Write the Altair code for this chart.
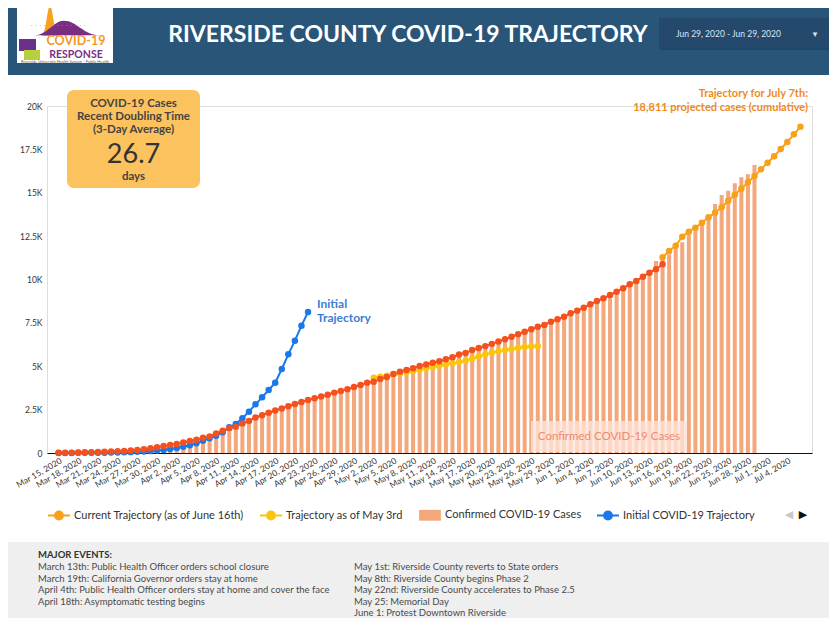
import altair as alt
import pandas as pd

# ---------------- series names / colours ----------------
S_CUR = "Current Trajectory (as of June 16th)"
S_MAY = "Trajectory as of May 3rd"
S_CONF = "Confirmed COVID-19 Cases"
S_INIT = "Initial COVID-19 Trajectory"
S_ACT = "Reported COVID-19 Cases (cumulative)"

series_order = [S_CUR, S_MAY, S_CONF, S_INIT, S_ACT]
series_colors = ["#f7a11a", "#fcc40f", "#f3a77b", "#1a78e8", "#f4511e"]
legend_entries = [S_CUR, S_MAY, S_CONF, S_INIT]

# ---------------- data ----------------
confirmed_start = "2020-03-15"
confirmed_cases = [
    7, 9, 12, 17, 24, 29, 35, 45, 57, 63,
    70, 90, 110, 130, 180, 220, 250, 290, 350, 420,
    460, 560, 650, 790, 900, 1050, 1250, 1400, 1550, 1700,
    1900, 2050, 2200, 2330, 2480, 2600, 2750, 2880, 2990, 3100,
    3200, 3300, 3420, 3520, 3620, 3750, 3870, 4000, 4080, 4200,
    4330, 4500, 4640, 4730, 4830, 4960, 5050, 5150, 5240, 5350,
    5470, 5620, 5710, 5880, 6000, 6110, 6240, 6370, 6500, 6650,
    6800, 6940, 7080, 7230, 7330, 7520, 7650, 7800, 8000, 8150,
    8320, 8510, 8700, 8860, 9050, 9240, 9430, 9660, 9850, 10100,
    10350, 11067, 11200, 11450, 11800, 12150, 12600, 12900, 13150, 13500,
    14352, 14871, 15110, 15545, 15900, 16070, 16600,
]

reported_start = "2020-03-15"
reported_cases = [
    10, 15, 20, 30, 40, 50, 60, 75, 90, 100,
    115, 150, 180, 210, 270, 330, 400, 460, 520, 600,
    690, 760, 880, 950, 1130, 1280, 1420, 1520, 1700, 1850,
    2050, 2180, 2320, 2450, 2570, 2700, 2820, 2940, 3050, 3150,
    3250, 3360, 3480, 3580, 3670, 3800, 3920, 4050, 4110, 4260,
    4380, 4560, 4690, 4780, 4880, 5010, 5100, 5200, 5290, 5400,
    5520, 5680, 5760, 5930, 6050, 6160, 6290, 6420, 6560, 6700,
    6850, 6993, 7128, 7282, 7378, 7570, 7705, 7858, 8051, 8204,
    8377, 8569, 8761, 8915, 9107, 9300, 9492, 9723, 9914, 10164,
    10395, 10587, 10876,
]

current_start = "2020-06-15"
current_traj = [
    11280, 11643, 11950, 12468, 12757, 12987, 13275, 13582, 13851, 14158,
    14542, 14888, 15234, 15599, 15966, 16350, 16734, 17100, 17522, 17926,
    18369, 18811,
]

may_start = "2020-05-02"
may_traj = [
    4340, 4390, 4450, 4520, 4590, 4660, 4730, 4800, 4880, 4950,
    5030, 5100, 5180, 5240, 5320, 5430, 5560, 5680, 5780, 5860,
    5930, 6000, 6060, 6110, 6140, 6170,
]

initial_start = "2020-03-15"
initial_traj = [
    4, 5, 6, 8, 10, 12, 15, 20, 25, 30,
    40, 50, 65, 85, 110, 140, 180, 230, 290, 360,
    450, 560, 700, 850, 1000, 1200, 1480, 1672, 2000, 2382,
    2805, 3208, 3631, 4054, 4842, 5687, 6475, 7339, 8127,
]

tick_dates = pd.date_range("2020-03-15", "2020-07-04", freq="3D")
y_ticks = [0, 2500, 5000, 7500, 10000, 12500, 15000, 17500, 20000]

events_left = [
    "March 13th: Public Health Officer orders school closure",
    "March 19th: California Governor orders stay at home",
    "April 4th: Public Health Officer orders stay at home and cover the face",
    "April 18th: Asymptomatic testing begins",
]
events_right = [
    "May 1st: Riverside County reverts to State orders",
    "May 8th: Riverside County begins Phase 2",
    "May 22nd: Riverside County accelerates to Phase 2.5",
    "May 25: Memorial Day",
    "June 1: Protest Downtown Riverside",
]


def frame(start, vals, name):
    d = pd.date_range(start, periods=len(vals), freq="D").strftime("%Y-%m-%d")
    return pd.DataFrame({"date": list(d), "cases": vals, "series": name})


def ms(d):
    return int(pd.Timestamp(d, tz="UTC").timestamp() * 1000)


bars_df = frame(confirmed_start, confirmed_cases, S_CONF)
line_frames = {
    S_INIT: frame(initial_start, initial_traj, S_INIT),
    S_MAY: frame(may_start, may_traj, S_MAY),
    S_CUR: frame(current_start, current_traj, S_CUR),
    S_ACT: frame(reported_start, reported_cases, S_ACT),
}
points_df = pd.concat(list(line_frames.values()), ignore_index=True)

# ---------------- encodings ----------------
x_enc = alt.X(
    "date:T",
    scale=alt.Scale(type="utc", domain=[ms("2020-03-14"), ms("2020-07-07")]),
    axis=alt.Axis(
        values=[ms(t) for t in tick_dates],
        labelExpr="utcFormat(datum.value, '%b %-d, %Y')",
        labelAngle=-30, labelAlign="right", labelBaseline="top",
        labelFont="Lato", labelFontSize=8.5, labelColor="#333333",
        labelPadding=3, labelOverlap=False, labelFlush=False,
        ticks=False, tickSize=0, grid=False, domainColor="#111111",
        domainWidth=1, title=None,
    ),
)
y_enc = alt.Y(
    "cases:Q",
    scale=alt.Scale(domain=[0, 20000], nice=False),
    axis=alt.Axis(
        values=y_ticks,
        labelExpr="datum.value == 0 ? '0' : (datum.value / 1000) + 'K'",
        labelFont="Lato", labelFontSize=8.5, labelColor="#333333",
        labelPadding=5, ticks=False, tickSize=0, domain=False, grid=False,
        title=None,
    ),
)

LD = ("M-1,-0.1H-0.42V0.1H-1Z M0.42,-0.1H1V0.1H0.42Z "
      "M0.45,0A0.45,0.45,0,1,1,-0.45,0A0.45,0.45,0,1,1,0.45,0Z")
RECT = "M-0.99,-0.49H0.99V0.49H-0.99Z"

legend = alt.Legend(
    title=None, orient="none", legendX=1, legendY=398, direction="horizontal",
    values=legend_entries, symbolSize=484, symbolStrokeWidth=0, symbolOpacity=1,
    labelFont="Lato", labelFontSize=11, labelColor="#333333", labelOffset=4,
    labelLimit=400, columnPadding=15, padding=0,
)
color_scale = alt.Scale(domain=series_order, range=series_colors)
color_enc = alt.Color("series:N", scale=color_scale, legend=legend)
shape_enc = alt.Shape(
    "series:N",
    scale=alt.Scale(domain=series_order, range=[LD, LD, RECT, LD, "circle"]),
    legend=legend,
)

# ---------------- decorative helpers (page coords -> plot coords) ----------------
OX, OY = 47, 106
dummy = pd.DataFrame({"k": [0]})


def txt(px, py, text, size, color, weight="normal", align="center",
        baseline="middle", font="Lato", **kw):
    return alt.Chart(dummy).mark_text(
        align=align, baseline=baseline, font=font, fontSize=size,
        fontWeight=weight, color=color, **kw
    ).encode(x=alt.value(px - OX), y=alt.value(py - OY), text=alt.value(text))


def box(px1, py1, px2, py2, color, **kw):
    return alt.Chart(dummy).mark_rect(color=color, **kw).encode(
        x=alt.value(px1 - OX), x2=alt.value(px2 - OX),
        y=alt.value(py1 - OY), y2=alt.value(py2 - OY),
    )


def shape(px, py, path, size, color):
    return alt.Chart(dummy).mark_point(
        shape=path, size=size, filled=True, opacity=1, color=color, strokeWidth=0
    ).encode(x=alt.value(px - OX), y=alt.value(py - OY))


# header
header = [
    box(-10, -10, 850, 75, "#295579"),
    box(660, 20, 834, 50, "#1d3e5e", opacity=0.6),
    box(659, 18, 832, 48, "#24496d"),
    txt(676, 34, "Jun 29, 2020 - Jun 29, 2020", 8.5, "#dde5ee", align="left"),
    txt(815, 34, "▾", 9, "#dde5ee", font="DejaVu Sans"),
    txt(408, 35, "RIVERSIDE COUNTY COVID-19 TRAJECTORY", 23, "#ffffff", weight="bold"),
    # logo
    box(17, 5, 113, 63, "#ffffff"),
    shape(50, 21, "M-0.6,1C-0.25,1,-0.2,-1,0,-1C0.2,-1,0.25,1,0.6,1Z", 900, "#f6a21e"),
    shape(67, 28, "M-1,0.22C-0.6,0.22,-0.4,-0.22,-0.1,-0.22C0.3,-0.22,0.5,0.22,1,0.22Z",
          4356, "#7b2d84"),
    txt(58, 26, "· · · · · · · · · · · · ·", 7, "#8fbf3a", font="DejaVu Sans"),
    box(19, 39, 36, 51, "#6b2f8c"),
    box(24, 50, 40, 60, "#b6cf3c"),
    txt(76, 40.5, "COVID-19", 12.5, "#f39a1d", weight="bold"),
    txt(76, 54.5, "RESPONSE", 10.5, "#7a2d86", weight="bold"),
    txt(65, 61.5, "Riverside University Health System - Public Health", 4, "#555555"),
]

# KPI box
kpi = [
    box(67, 90, 200, 188, "#fcc25d", cornerRadius=7),
    txt(133.5, 104, "COVID-19 Cases", 11.5, "#444444", weight="bold"),
    txt(133.5, 117, "Recent Doubling Time", 11.5, "#444444", weight="bold"),
    txt(133.5, 130, "(3-Day Average)", 11.5, "#444444", weight="bold"),
    txt(133.5, 155, "26.7", 27, "#333333"),
    txt(133.5, 177, "days", 11.5, "#444444", weight="bold"),
]

# events box
events = [
    box(-10, 542, 850, 640, "#efefef"),
    txt(38, 555, "MAJOR EVENTS:", 9.5, "#333333", align="left", weight="bold"),
    txt(38, 570, events_left, 9.5, "#4a4a4a", align="left",
        baseline="alphabetic", lineHeight=11.6),
    txt(354, 570, events_right, 9.5, "#4a4a4a", align="left",
        baseline="alphabetic", lineHeight=11.6),
]

# ---------------- data layers ----------------
bars = alt.Chart(bars_df).mark_bar(size=4, opacity=1).encode(
    x=x_enc, y=y_enc, color=color_enc
)

lines = []
for name in [S_INIT, S_MAY, S_CUR, S_ACT]:
    c = series_colors[series_order.index(name)]
    lines.append(
        alt.Chart(line_frames[name]).mark_line(color=c, strokeWidth=2).encode(
            x=x_enc, y=y_enc
        )
    )

points = alt.Chart(points_df).mark_point(
    filled=True, size=42, opacity=1, strokeWidth=0, shape="circle"
).encode(x=x_enc, y=y_enc, color=color_enc)

legend_layer = alt.Chart(points_df).transform_filter("false").mark_point(
    filled=True, opacity=1, strokeWidth=0
).encode(x=x_enc, y=y_enc, color=color_enc, shape=shape_enc)

# annotations
last_init = line_frames[S_INIT].iloc[[-1]]
init_label = [
    alt.Chart(last_init).mark_text(
        align="left", baseline="middle", font="Lato", fontSize=12,
        fontWeight="bold", color="#3b7dd8", dx=9, dy=-8
    ).encode(x=x_enc, y=y_enc, text=alt.value("Initial")),
    alt.Chart(last_init).mark_text(
        align="left", baseline="middle", font="Lato", fontSize=12,
        fontWeight="bold", color="#3b7dd8", dx=9, dy=6
    ).encode(x=x_enc, y=y_enc, text=alt.value("Trajectory")),
]

proj = [
    txt(808, 94, "Trajectory for July 7th:", 11, "#ef8a22", weight="bold", align="right"),
    txt(808, 108, "18,811 projected cases (cumulative)", 11, "#ef8a22",
        weight="bold", align="right"),
]

conf_label = [
    box(531, 421, 687, 452, "#ffe4da", opacity=0.78),
    txt(609, 436.5, "Confirmed COVID-19 Cases", 11.5, "#ef8a6e"),
]

arrows = [
    txt(789, 515, "◀", 11, "#c8c8c8", font="DejaVu Sans"),
    txt(803, 515, "▶", 11, "#111111", font="DejaVu Sans"),
]

chart = alt.layer(
    *header, *events, *kpi, bars, *lines, points, legend_layer,
    *conf_label, *init_label, *proj, *arrows,
).properties(
    width=765, height=347,
    autosize=alt.AutoSizeParams(type="none"),
    padding={"left": 39, "top": 98, "right": 17, "bottom": 165},
    background="#ffffff",
).configure_view(strokeWidth=0).configure(font="Lato")

chart.save("out.html", embed_options={"renderer": "svg", "actions": False})
